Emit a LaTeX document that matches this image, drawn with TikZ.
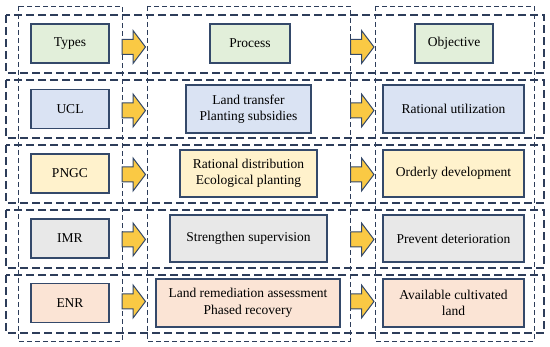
\documentclass[tikz,border=0pt]{standalone}
\usepackage{fontspec}
\setmainfont{Liberation Serif}
\definecolor{dashc}{HTML}{2D3D5A}
\definecolor{boxline}{HTML}{34496A}
\definecolor{fgreen}{HTML}{E2EFDA}
\definecolor{fblue}{HTML}{DAE3F3}
\definecolor{fyellow}{HTML}{FFF2CC}
\definecolor{fgrey}{HTML}{E8E8E8}
\definecolor{fpeach}{HTML}{FBE4D5}
\definecolor{farrow}{HTML}{FAC944}
\tikzset{
  rowframe/.style={draw=dashc, line width=1.4pt, dash pattern=on 8pt off 4pt},
  colframe/.style={draw=dashc, line width=0.9pt, dash pattern=on 5pt off 3pt},
  cellbox/.style={draw=boxline, line width=1.1pt, rectangle, align=center, inner sep=0pt,
    font=\fontsize{13.5}{16.5}\selectfont},
  blockarr/.pic={\draw[draw=boxline, line width=1pt, fill=farrow, line join=miter]
     (0,-7.5) -- (11,-7.5) -- (11,-16.5) -- (23.5,0) -- (11,16.5) -- (11,7.5) -- (0,7.5) -- cycle;}
}
\begin{document}
\begin{tikzpicture}[x=1pt,y=-1pt]
\useasboundingbox (0,0) rectangle (550,347);
% row frames
\foreach \t in {15,80,145,210,275}{
  \draw[rowframe] (6,\t) rectangle (544,\t+58);
}
% column frames
\draw[colframe] (18,6) rectangle (122,341);
\draw[colframe] (147,6) rectangle (350,341);
\draw[colframe] (375,6) rectangle (534,341);
% column 1
\node[cellbox, fill=fgreen,  minimum width=78pt, minimum height=39pt] (t1) at (70,43.5) {Types};
\node[cellbox, fill=fblue,   minimum width=78pt, minimum height=39pt] (t2) at (70,109) {UCL};
\node[cellbox, fill=fyellow, minimum width=78pt, minimum height=39pt] (t3) at (70,173.5) {PNGC};
\node[cellbox, fill=fgrey,   minimum width=78pt, minimum height=39pt] (t4) at (70,238.5) {IMR};
\node[cellbox, fill=fpeach,  minimum width=78pt, minimum height=39pt] (t5) at (70,303) {ENR};
% column 2
\node[cellbox, fill=fgreen,  minimum width=80pt, minimum height=39pt] (p1) at (250,43.5) {Process};
\node[cellbox, fill=fblue,   minimum width=125pt, minimum height=48pt] (p2) at (248.5,109) {Land transfer\\Planting subsidies};
\node[cellbox, fill=fyellow, minimum width=137pt, minimum height=47pt] (p3) at (248.5,173.5) {Rational distribution\\Ecological planting};
\node[cellbox, fill=fgrey,   minimum width=157pt, minimum height=47pt] (p4) at (248.5,238.5) {Strengthen supervision};
\node[cellbox, fill=fpeach,  minimum width=184pt, minimum height=48pt] (p5) at (248,303) {Land remediation assessment\\Phased recovery};
% column 3
\node[cellbox, fill=fgreen,  minimum width=78pt, minimum height=39pt] (o1) at (454,43.5) {Objective};
\node[cellbox, fill=fblue,   minimum width=141pt, minimum height=48pt] (o2) at (453.5,109) {Rational utilization};
\node[cellbox, fill=fyellow, minimum width=141pt, minimum height=47pt] (o3) at (453.5,173.5) {Orderly development};
\node[cellbox, fill=fgrey,   minimum width=141pt, minimum height=47pt] (o4) at (453.5,238.5) {Prevent deterioration};
\node[cellbox, fill=fpeach,  minimum width=141pt, minimum height=48pt] (o5) at (453.5,303) {Available cultivated\\land};
% block arrows
\foreach \c in {47,110.5,174.5,239.5,301.5}{
  \pic at (122,\c) {blockarr};
  \pic at (350.5,\c) {blockarr};
}
\end{tikzpicture}
\end{document}
